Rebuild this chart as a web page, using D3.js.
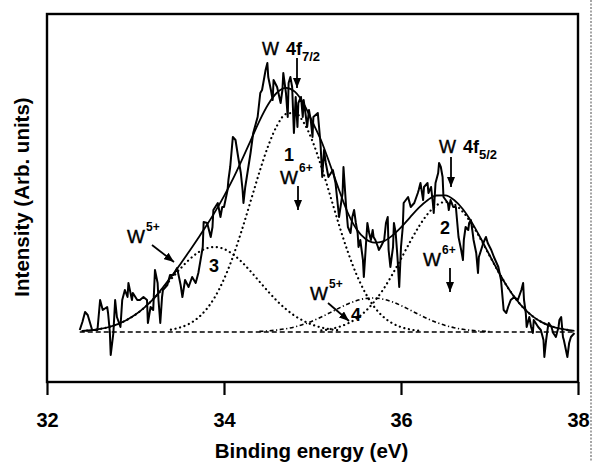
<!DOCTYPE html>
<html>
<head>
<script src="https://d3js.org/d3.v7.min.js"></script>
<style>
  body { margin: 0; background: #fff; }
  text { font-family: "Liberation Sans", Arial, sans-serif; fill: #000; }
</style>
</head>
<body>
<div id="chart"></div>
<script>
// W 4f spectrum, [binding energy (eV), intensity (arb.)]
var rawData = [
  [32.37,2],[32.40,10],[32.43,20],[32.46,17],[32.51,2],[32.57,2],[32.60,32],[32.63,22],[32.68,25],[32.69,19],[32.71,0],[32.72,-23],[32.75,-1],[32.77,32],[32.79,15],[32.83,5],[32.85,32],[32.88,42],[32.91,35],[32.92,49],[32.96,32],[32.97,39],[33.02,32],[33.05,32],[33.09,35],[33.13,32],[33.14,9],[33.17,25],[33.20,22],[33.22,62],[33.25,49],[33.26,32],[33.28,9],
  [33.30,35],[33.31,42],[33.36,47],[33.39,57],[33.43,57],[33.47,64],[33.51,47],[33.53,35],[33.56,52],[33.60,45],[33.64,55],[33.68,49],[33.71,59],[33.76,85],[33.77,110],[33.81,109],[33.85,95],[33.87,105],[33.88,122],[33.93,129],[33.96,115],[33.98,125],[34.00,125],[34.04,142],[34.05,152],[34.07,165],[34.10,195],[34.13,192],[34.16,175],[34.19,159],[34.21,142],[34.22,129],[34.24,145],[34.27,162],[34.30,179],
  [34.33,199],[34.38,215],[34.41,239],[34.43,242],[34.47,262],[34.49,269],[34.50,255],[34.53,242],[34.55,232],[34.56,252],[34.60,245],[34.64,229],[34.66,242],[34.67,259],[34.70,239],[34.72,215],[34.73,249],[34.75,255],[34.77,245],[34.79,199],[34.81,235],[34.83,205],[34.84,229],[34.87,235],[34.89,215],[34.90,232],[34.92,219],[34.94,205],[34.96,222],[34.98,212],[35.00,195],[35.01,215],[35.06,219],[35.07,209],[35.09,189],[35.11,155],[35.13,182],[35.15,169],[35.18,155],[35.23,162],[35.26,149],
  [35.28,132],[35.30,115],[35.34,139],[35.35,165],[35.38,125],[35.40,105],[35.43,99],[35.45,115],[35.47,122],[35.49,109],[35.51,99],[35.52,85],[35.54,92],[35.57,72],[35.58,55],[35.60,82],[35.62,109],[35.64,99],[35.66,92],[35.68,102],[35.69,95],[35.71,92],[35.74,85],[35.75,82],[35.77,85],[35.81,92],[35.83,109],[35.85,115],[35.86,82],[35.88,65],[35.91,85],[35.92,109],[35.94,99],[35.96,75],[35.98,45],[36.00,85],[36.02,105],[36.03,129],[36.08,135],
  [36.11,125],[36.15,129],[36.19,139],[36.20,142],[36.22,149],[36.25,132],[36.26,145],[36.30,149],[36.31,139],[36.34,145],[36.36,129],[36.37,119],[36.39,149],[36.42,159],[36.43,169],[36.45,165],[36.47,155],[36.48,135],[36.53,129],[36.54,122],[36.56,132],[36.59,125],[36.62,125],[36.64,105],[36.65,95],[36.68,82],[36.70,72],[36.71,92],[36.73,105],[36.76,102],[36.77,109],[36.79,112],[36.81,99],[36.82,92],[36.85,79],[36.87,59],[36.88,75],[36.93,89],[36.96,95],[36.98,89],[37.02,82],[37.05,75],[37.10,65],[37.13,52],
  [37.15,32],[37.16,22],[37.19,19],[37.21,25],[37.24,32],[37.28,35],[37.32,32],[37.36,42],[37.38,49],[37.39,32],[37.41,19],[37.42,5],[37.45,15],[37.47,5],[37.49,-1],[37.50,12],[37.55,5],[37.58,2],[37.61,-8],[37.62,-25],[37.64,-8],[37.66,5],[37.67,9],[37.70,5],[37.72,-1],[37.75,-5],[37.78,5],[37.79,12],[37.81,15],[37.83,-5],[37.84,-8],[37.88,-25],[37.90,-11],[37.92,-5],[37.96,-1]
];

// fitted envelope
var envelope = [
  [32.4,1.0],[32.5,1.8],[32.6,3.1],[32.7,5.0],[32.8,7.9],[32.9,12.0],[33.0,17.4],[33.1,24.4],[33.2,32.8],[33.3,43.5],[33.4,54.9],[33.5,67.1],[33.6,79.7],[33.7,92.8],[33.8,106.2],[33.9,120.4],[34.0,135.9],[34.1,152.8],[34.2,171.6],[34.3,191.2],[34.4,210.9],[34.5,227.7],[34.6,239.5],[34.7,244.2],[34.8,240.4],[34.9,228.4],[35.0,210.0],[35.1,191.0],[35.2,167.0],[35.3,142.0],[35.4,119.0],[35.5,102.5],[35.6,93.0],[35.7,89.4],[35.8,90.7],[35.9,96.3],[36.0,104.6],[36.1,114.4],[36.2,124.1],[36.3,131.8],[36.4,136.5],[36.5,136.6],[36.6,132.0],[36.7,122.7],[36.8,109.6],[36.9,93.8],[37.0,77.0],[37.1,60.5],[37.2,45.4],[37.3,32.8],[37.4,22.6],[37.5,14.9],[37.6,9.4],[37.7,5.7],[37.8,3.3],[37.9,1.8],[37.96,1.2]
];

// fitted components 1..4
var peak1 = [
  [33.4,2.3],[33.5,4.4],[33.6,7.9],[33.7,13.7],[33.8,22.6],[33.9,35.4],[34.0,52.9],[34.1,75.0],[34.2,101.5],[34.3,130.5],[34.4,159.8],[34.5,186.2],[34.6,206.5],[34.7,218.0],[34.8,219.1],[34.9,209.6],[35.0,190.8],[35.1,165.4],[35.2,136.4],[35.3,107.0],[35.4,80.0],[35.5,56.9],[35.6,38.6],[35.7,24.8],[35.8,15.2],[35.9,8.9],[36.0,4.9],[36.1,2.6],[36.2,1.3]
];
var peak2 = [
  [35.1,1.6],[35.2,2.9],[35.3,5.1],[35.4,8.6],[35.5,13.7],[35.6,20.9],[35.7,30.6],[35.8,42.7],[35.9,57.2],[36.0,73.2],[36.1,89.7],[36.2,105.2],[36.3,117.9],[36.4,126.6],[36.5,130.0],[36.6,127.7],[36.7,120.0],[36.8,108.0],[36.9,92.9],[37.0,76.5],[37.1,60.3],[37.2,45.4],[37.3,32.8],[37.4,22.6],[37.5,14.9],[37.6,9.4],[37.7,5.7],[37.8,3.3],[37.9,1.8]
];
var peak3 = [
  [32.4,1.0],[32.5,1.8],[32.6,3.1],[32.7,5.0],[32.8,7.9],[32.9,12.0],[33.0,17.4],[33.1,24.4],[33.2,32.8],[33.3,42.4],[33.4,52.6],[33.5,62.7],[33.6,71.8],[33.7,79.1],[33.8,83.6],[33.9,85.0],[34.0,83.0],[34.1,77.8],[34.2,70.1],[34.3,60.7],[34.4,50.5],[34.5,40.4],[34.6,31.0],[34.7,22.9],[34.8,16.2],[34.9,11.1],[35.0,7.2],[35.1,4.5],[35.2,2.7],[35.3,1.6]
];
var peak4 = [
  [34.4,0.6],[34.5,1.1],[34.6,2.0],[34.7,3.3],[34.8,5.1],[34.9,7.7],[35.0,11.0],[35.1,15.0],[35.2,19.4],[35.3,23.9],[35.4,28.1],[35.5,31.4],[35.6,33.5],[35.7,34.0],[35.8,32.8],[35.9,30.2],[36.0,26.5],[36.1,22.1],[36.2,17.6],[36.3,13.3],[36.4,9.6],[36.5,6.6],[36.6,4.3],[36.7,2.7],[36.8,1.6],[36.9,0.9],[37.0,0.5]
];
var baseline = [[32.37,0],[37.96,0]];

var xTicks = [32, 34, 36, 38];

var width = 594, height = 462;
var margin = { left: 47, right: 578, top: 14, bottom: 382 };

var svg = d3.select("#chart").append("svg")
  .attr("width", width)
  .attr("height", height);

var x = d3.scaleLinear().domain([32, 38]).range([margin.left, margin.right]);
var y = d3.scaleLinear().domain([-50, 318]).range([margin.bottom, margin.top]);

var defs = svg.append("defs");
defs.append("marker")
  .attr("id", "head")
  .attr("viewBox", "0 0 10 8")
  .attr("refX", 10).attr("refY", 4)
  .attr("markerWidth", 10).attr("markerHeight", 8)
  .attr("markerUnits", "userSpaceOnUse")
  .attr("orient", "auto")
  .append("path").attr("d", "M0,0L10,4L0,8z").attr("fill", "#000");

// scan artifact on the right edge
svg.append("line")
  .attr("x1", 591).attr("x2", 591).attr("y1", 0).attr("y2", height)
  .attr("stroke", "#888").attr("stroke-width", 1.5)
  .attr("stroke-dasharray", "2,1.5");

// x axis with outward ticks
var xAxis = svg.append("g")
  .attr("transform", "translate(0," + margin.bottom + ")")
  .call(d3.axisBottom(x).tickValues(xTicks).tickSize(13).tickSizeOuter(0).tickPadding(18).tickFormat(d3.format("d")));
xAxis.select(".domain").remove();
xAxis.selectAll(".tick line").attr("stroke", "#000").attr("stroke-width", 2.2);
xAxis.selectAll(".tick text")
  .style("font-family", "'Liberation Sans', Arial, sans-serif")
  .style("font-size", "20px").style("font-weight", "bold");

// frame
svg.append("rect")
  .attr("x", margin.left).attr("y", margin.top)
  .attr("width", margin.right - margin.left).attr("height", margin.bottom - margin.top)
  .attr("fill", "none").attr("stroke", "#000").attr("stroke-width", 2.4);

var line = d3.line().x(d => x(d[0])).y(d => y(d[1]));
var smooth = d3.line().x(d => x(d[0])).y(d => y(d[1])).curve(d3.curveMonotoneX);

svg.append("path").datum(baseline).attr("d", line)
  .attr("fill", "none").attr("stroke", "#000").attr("stroke-width", 1.5)
  .attr("stroke-dasharray", "5,3");

[peak1, peak2, peak3].forEach(function (p) {
  svg.append("path").datum(p).attr("d", smooth)
    .attr("fill", "none").attr("stroke", "#000").attr("stroke-width", 2.2)
    .attr("stroke-linecap", "round")
    .attr("stroke-dasharray", "0.1,4.6");
});

svg.append("path").datum(peak4).attr("d", smooth)
  .attr("fill", "none").attr("stroke", "#000").attr("stroke-width", 1.6)
  .attr("stroke-dasharray", "4,2.5,1.2,2.5");

svg.append("path").datum(envelope).attr("d", smooth)
  .attr("fill", "none").attr("stroke", "#000").attr("stroke-width", 1.8);

svg.append("path").datum(rawData).attr("d", line)
  .attr("fill", "none").attr("stroke", "#000").attr("stroke-width", 2)
  .attr("stroke-linejoin", "round");

// annotations (pixel layout)
function arrow(x1, y1, x2, y2) {
  svg.append("line")
    .attr("x1", x1).attr("y1", y1).attr("x2", x2).attr("y2", y2)
    .attr("stroke", "#000").attr("stroke-width", 1.8)
    .attr("marker-end", "url(#head)");
}
function label(xp, yp, txt, size, weight) {
  return svg.append("text").attr("x", xp).attr("y", yp)
    .style("font-size", size + "px").style("font-weight", weight || "normal")
    .text(txt);
}
function ion(xp, yp, sup) {
  label(xp, yp, "W", 19).attr("stroke", "#000").attr("stroke-width", 0.4);
  label(xp + 19, yp - 12, sup, 12, "bold");
}
function orbital(xp, yp, sub) {
  label(xp, yp, "W", 18).attr("stroke", "#000").attr("stroke-width", 0.4);
  label(xp + 24, yp, "4f", 18, "bold");
  label(xp + 40, yp + 6, sub, 13, "bold");
}

orbital(262, 55, "7/2");
arrow(297, 58, 297, 88);
label(289, 161, "1", 18, "bold").attr("text-anchor", "middle");
ion(280, 184, "6+");
arrow(298, 186, 298, 210);

orbital(439, 153, "5/2");
arrow(451, 157, 451, 187);
label(445, 234, "2", 18, "bold").attr("text-anchor", "middle");
ion(423, 266, "6+");
arrow(450, 268, 450, 292);

ion(127, 243, "5+");
arrow(152, 245, 174, 262);
label(214, 272, "3", 18, "bold").attr("text-anchor", "middle");

ion(310, 300, "5+");
arrow(328, 303, 349, 321);
label(356, 321, "4", 18, "bold").attr("text-anchor", "middle");

// axis titles
svg.append("text")
  .attr("x", (margin.left + margin.right) / 2 - 1).attr("y", 458)
  .attr("text-anchor", "middle")
  .style("font-size", "20.5px").style("font-weight", "bold")
  .text("Binding energy (eV)");

svg.append("text")
  .attr("transform", "translate(29,197) rotate(-90)")
  .attr("text-anchor", "middle")
  .style("font-size", "20.5px").style("font-weight", "bold")
  .text("Intensity (Arb. units)");
</script>
</body>
</html>
